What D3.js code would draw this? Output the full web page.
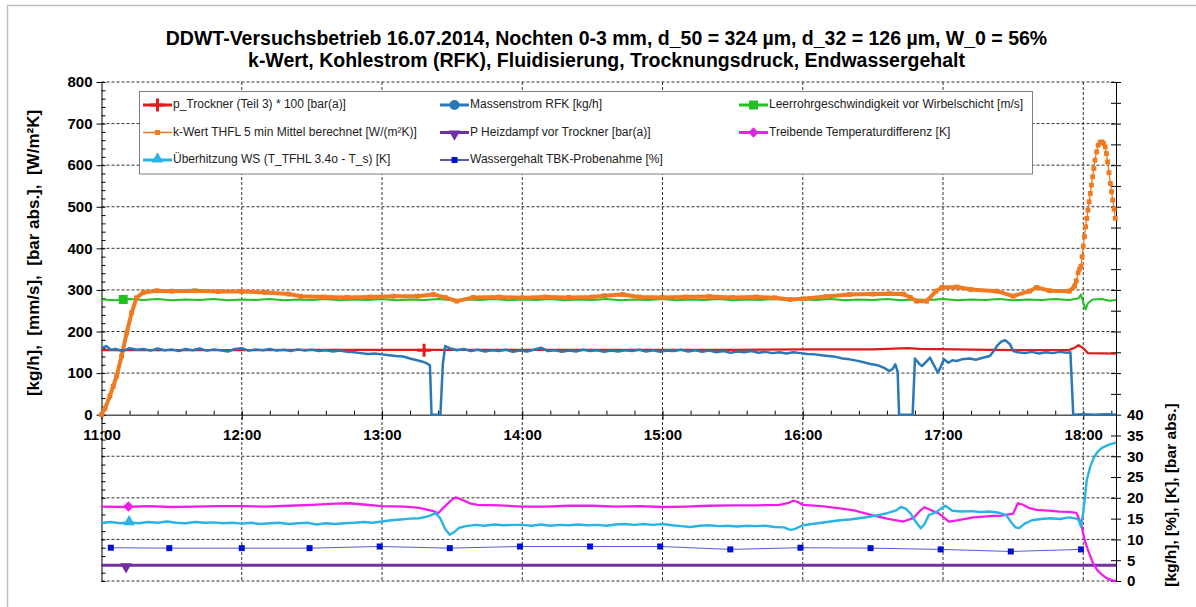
<!DOCTYPE html>
<html>
<head>
<meta charset="utf-8">
<script src="https://cdnjs.cloudflare.com/ajax/libs/d3/7.8.5/d3.min.js"></script>
<style>
  body { margin: 0; background: #fff; }
  svg { font-family: "Liberation Sans", Arial, sans-serif; }
</style>
</head>
<body>
<div id="chart"></div>
<script>
// time is given in minutes after 11:00
var hourTicks = [0, 60, 120, 180, 240, 300, 360, 420];
var hourLabels = ["11:00", "12:00", "13:00", "14:00", "15:00", "16:00", "17:00", "18:00"];
var leftTicks = [0, 100, 200, 300, 400, 500, 600, 700, 800];
var rightTicks = [0, 5, 10, 15, 20, 25, 30, 35, 40];

var titleLines = [
  "DDWT-Versuchsbetrieb 16.07.2014, Nochten 0-3 mm, d_50 = 324 µm, d_32 = 126 µm, W_0 = 56%",
  "k-Wert, Kohlestrom (RFK), Fluidisierung, Trocknungsdruck, Endwassergehalt"
];
var leftTitle = "[kg/h],  [mm/s],  [bar abs.],  [W/m²K]";
var rightTitle = "[kg/h], [%], [K], [bar abs.]";

var legendNames = [
  "p_Trockner (Teil 3) * 100 [bar(a)]",
  "Massenstrom RFK [kg/h]",
  "Leerrohrgeschwindigkeit vor Wirbelschicht [m/s]",
  "k-Wert THFL 5 min Mittel berechnet [W/(m²K)]",
  "P Heizdampf vor Trockner [bar(a)]",
  "Treibende Temperaturdifferenz [K]",
  "Überhitzung WS (T_TFHL 3.4o - T_s) [K]",
  "Wassergehalt TBK-Probenahme [%]"
];

// left axis series
var pTrockner = [[0,155],[30,155],[60,155],[90,156],[120,156],[150,156],[180,156],[210,156],[240,156],
  [270,156],[300,157],[330,157],[345,160],[350,158],[380,156],[400,155],[414,156],[416,160],[418,167],
  [420,160],[422,148],[434,147]];

var massStrom = [[0,160],[2,165],[4,156],[6,158],[9,153],[12,160],[15,156],[18,158],[21,154],[24,159],
  [27,155],[30,157],[33,153],[36,158],[39,155],[42,159],[45,154],[48,157],[51,155],[54,152],[57,158],
  [60,160],[63,154],[66,157],[69,155],[72,158],[75,154],[78,156],[81,153],[84,157],[87,154],[90,156],
  [93,153],[96,155],[99,152],[102,154],[105,151],[108,150],[111,148],[114,146],[117,147],[120,145],
  [123,143],[126,141],[129,140],[132,135],[135,131],[137,128],[139,124],[140.5,118],[141.2,0],[145,0],
  [146,120],[147,165],[149,160],[152,155],[155,158],[158,153],[161,156],[164,152],[167,155],[170,153],
  [173,156],[176,151],[179,154],[182,152],[185,156],[188,161],[191,153],[194,155],[197,151],[200,154],
  [203,152],[206,156],[209,153],[212,155],[215,151],[218,154],[221,152],[224,155],[227,153],[230,156],
  [233,152],[236,155],[239,151],[242,154],[245,153],[248,156],[251,152],[254,155],[257,151],[260,154],
  [263,150],[266,153],[269,149],[272,152],[275,150],[278,153],[281,149],[284,151],[287,148],[290,150],
  [293,147],[296,150],[299,148],[302,146],[305,145],[308,143],[311,141],[314,139],[317,135],[320,133],
  [323,130],[326,126],[329,122],[332,119],[335,112],[337,105],[338.5,110],[339.6,121],[340.6,103],
  [341.2,0],[347,0],[348,135],[350,121],[351,117],[353,128],[354.4,137],[356,120],[357.8,101],[359,115],
  [360.4,133],[362.3,125],[364,131],[365.8,129],[368,133],[371.5,135],[374,132],[377,137],[380,141],
  [382,155],[383,165],[385,176],[386.6,179],[388.7,169],[390,153],[392,150],[395,148],[398,151],
  [401,147],[404,150],[407,148],[410,151],[413,149],[414.5,150],[415.7,0],[420,1],[425,0],[430,1],[434,0]];

var leerrohr = [[0,277],[6,275],[12,278],[18,276],[24,278],[30,275],[36,277],[42,276],[48,278],[54,275],
  [60,277],[66,276],[72,278],[78,275],[84,277],[90,276],[96,278],[102,275],[108,277],[114,276],[120,278],
  [126,275],[132,277],[138,276],[144,278],[150,275],[156,277],[162,276],[168,278],[174,275],[180,277],
  [186,276],[192,278],[198,275],[204,277],[210,276],[216,278],[222,275],[228,277],[234,276],[240,278],
  [246,275],[252,277],[258,276],[264,278],[270,275],[276,277],[282,276],[288,278],[294,275],[300,277],
  [306,276],[312,278],[318,275],[324,277],[330,276],[336,278],[342,275],[348,277],[354,276],[360,278],
  [366,275],[372,277],[378,276],[384,278],[390,275],[396,277],[402,276],[408,278],[414,276],[418,280],
  [419,289],[420,270],[421,253],[422,268],[424,277],[428,278],[431,274],[434,276]];

var kWert = [[0,0],[1.5,15],[3.6,45],[5,68],[6.5,93],[8.6,141],[10.8,197],[12.9,245],[15,281],[17.9,294],
  [23.6,298],[30,297],[40,298],[50,296],[60,296],[70,294],[80,290],[85,285],[95,283],[105,282],[115,283],
  [125,285],[135,285],[142,289],[147,282],[152,273],[159,282],[170,283],[180,281],[190,283],[200,282],
  [210,283],[215,286],[223,289],[230,283],[240,282],[250,283],[260,284],[270,282],[280,283],[288,281],
  [294.5,277],[300,278.5],[310,284],[320,289],[330,290],[337,291],[343,290],[346,282],[348.7,273],
  [353,273],[357,297],[359.6,306],[366,307],[372,301],[383,297],[390,285],[397,297],[400,306],[405.6,298],
  [414,297],[416.3,309],[417,322],[417.8,341],[418.4,350],[419,357],[419.5,380],[420,405],[420.5,428],
  [421,452],[421.5,472],[422,492],[422.5,512],[423,532],[423.5,552],[424,572],[424.5,592],[425,612],
  [425.7,632],[426.4,648],[427.2,655],[428,656],[428.7,652],[429.4,644],[429.9,628],[430.4,608],
  [431,582],[431.6,556],[432.1,536],[432.6,516],[433.2,494],[433.7,472]];

// right axis series
var heizdampf = [[0,3.8],[434,3.8]];

var treibend = [[0,17.9],[10,17.8],[20,18.0],[30,17.8],[40,17.9],[50,18.0],[60,18.0],[70,17.9],[80,18.1],
  [90,18.3],[100,18.6],[106,18.7],[112,18.4],[120,18.0],[130,17.9],[136,17.6],[142,16.8],[144,16.3],
  [147,18.0],[150,19.6],[151.5,20.1],[154,19.6],[158,18.6],[161,18.3],[170,18.2],[180,17.9],[190,17.9],
  [200,18.1],[210,18.1],[220,17.9],[230,18.0],[240,17.8],[250,17.9],[260,18.1],[270,18.2],[280,18.2],
  [290,18.3],[294,18.8],[296,19.3],[298,19.0],[300,18.3],[308,18.0],[315,17.5],[322,17.0],[329,15.9],
  [336,15.0],[343,14.3],[347.5,15.2],[350,16.8],[352,17.7],[355,17.0],[358,16.3],[360,15.4],[362.5,14.3],
  [366,14.6],[373,15.3],[380,15.6],[385,15.7],[390,16.2],[392,18.7],[394,18.4],[397,17.5],[400,17.1],
  [405,16.9],[410,16.7],[414,16.6],[417,16.4],[419,14.0],[420.5,10.0],[422,7.5],[424,4.5],[426,2.6],
  [428,1.5],[430,0.7],[432,0.2],[434,0]];

var ueberhitzung = [[0,14.0],[4,14.2],[8,13.9],[12,14.1],[16,13.9],[20,14.2],[24,14.0],[28,14.3],[32,14.0],
  [36,13.9],[40,14.2],[44,14.0],[48,14.1],[52,13.9],[56,14.0],[60,13.8],[64,14.0],[68,13.7],[72,13.9],
  [76,14.0],[80,13.7],[84,13.9],[88,14.0],[92,13.6],[96,13.9],[100,13.7],[104,13.9],[108,14.0],[112,14.2],
  [116,14.0],[120,14.3],[124,14.6],[128,14.8],[132,15.0],[136,15.1],[140,15.6],[143,16.3],[145,15.0],
  [147,12.5],[149,11.1],[151,11.8],[153,12.8],[156,13.2],[160,13.5],[164,13.3],[168,13.6],[172,13.4],
  [176,13.5],[180,13.5],[184,13.3],[188,13.6],[192,13.3],[196,13.5],[200,13.4],[204,13.6],[208,13.4],
  [212,13.5],[216,13.3],[220,13.6],[224,13.7],[228,13.5],[232,13.7],[236,13.5],[240,13.7],[244,13.4],
  [248,13.2],[252,13.0],[256,13.3],[260,13.4],[264,13.2],[268,13.3],[272,13.1],[276,13.3],[280,13.2],
  [284,13.3],[288,13.0],[292,12.9],[294,12.4],[295,12.3],[297,12.6],[300,13.4],[304,13.7],[308,14.0],
  [312,14.3],[316,14.6],[320,14.8],[324,15.1],[328,15.4],[332,15.8],[336,16.3],[340,17.0],[342,17.8],
  [344,17.4],[346,16.3],[348,14.5],[350.5,12.7],[352,13.6],[354,15.9],[357,16.5],[359,17.4],[361,18.1],
  [364,16.9],[368,16.7],[372,16.8],[376,16.6],[380,16.7],[384,16.4],[387,15.9],[389,14.2],[391,12.9],
  [392.5,12.7],[395,13.8],[398,14.6],[402,14.9],[406,15.1],[410,14.9],[414,15.3],[417,15.0],[418,14.7],
  [419,13.1],[420,16.4],[421.5,24.3],[423,27.5],[424.5,29.6],[426,31.0],[428,32.0],[431,32.8],[434,33.3]];

var wassergehalt = [[4,8.0],[29,7.9],[60,7.9],[89,7.9],[119,8.3],[149,7.9],[179,8.3],[209,8.3],[239,8.3],
  [269,7.6],[299,8.0],[329,7.9],[359,7.6],[389,7.1],[419,7.6]];

function drawChart() {
  var w = 1196;
  var h = 607;

  var svg = d3.select("#chart")
    .append("svg")
    .attr("width", w)
    .attr("height", h);

  //outer frame
  svg.append("rect")
    .attr("x", 7.5).attr("y", 5.5)
    .attr("width", 1220).attr("height", 640)
    .attr("fill", "none")
    .attr("stroke", "#c0c0c0")
    .attr("stroke-width", 1.5);

  var xScale = d3.scaleLinear().domain([0, 434]).range([101.5, 1116]);
  var yLeft = d3.scaleLinear().domain([-400, 800]).range([581, 82]);
  var yRight = d3.scaleLinear().domain([0, 120]).range([581, 82]);

  //title
  svg.selectAll(".title")
    .data(titleLines)
    .enter()
    .append("text")
    .attr("class", "title")
    .attr("x", 606.5)
    .attr("y", (d, i) => 45 + i * 21.7)
    .attr("text-anchor", "middle")
    .style("font-size", "19.5px")
    .style("font-weight", "bold")
    .text((d) => d);

  //gridlines
  var gridH = [-400, -300, -200, -100, 100, 200, 300, 400, 500, 600, 700, 800];
  svg.append("g").selectAll("line")
    .data(gridH)
    .enter()
    .append("line")
    .attr("x1", xScale(0)).attr("x2", xScale(434))
    .attr("y1", (d) => yLeft(d)).attr("y2", (d) => yLeft(d))
    .attr("stroke", "#333")
    .attr("stroke-dasharray", "3,2");

  svg.append("g").selectAll("line")
    .data(hourTicks.slice(1))
    .enter()
    .append("line")
    .attr("x1", (d) => xScale(d)).attr("x2", (d) => xScale(d))
    .attr("y1", 82).attr("y2", 581)
    .attr("stroke", "#333")
    .attr("stroke-dasharray", "3,2");

  //left axis
  var leftAxis = svg.append("g")
    .attr("transform", "translate(" + xScale(0) + ",0)")
    .call(d3.axisLeft(yLeft).tickValues(leftTicks).tickSize(5).tickSizeOuter(0).tickPadding(4));
  svg.append("g")
    .attr("transform", "translate(" + xScale(0) + ",0)")
    .call(d3.axisRight(yLeft).tickValues(d3.range(-400, 801, 20)).tickSize(4).tickFormat(""))
    .call((g) => g.select(".domain").remove());

  //right axis
  var rightAxis = svg.append("g")
    .attr("transform", "translate(" + xScale(434) + ",0)")
    .call(d3.axisRight(yRight).tickValues(rightTicks).tickSize(5).tickSizeOuter(0).tickPadding(6));
  svg.append("g")
    .attr("transform", "translate(" + xScale(434) + ",0)")
    .call(d3.axisLeft(yRight).tickValues(d3.range(0, 121, 5)).tickSize(5).tickFormat(""))
    .call((g) => g.select(".domain").remove());
  svg.append("g")
    .attr("transform", "translate(" + xScale(434) + ",0)")
    .call(d3.axisRight(yRight).tickValues(d3.range(45, 121, 5)).tickSize(5).tickFormat(""))
    .call((g) => g.select(".domain").remove());

  //time axis at zero
  var xAxis = svg.append("g")
    .attr("transform", "translate(0," + yLeft(0) + ")")
    .call(d3.axisBottom(xScale).tickValues(hourTicks).tickFormat((d, i) => hourLabels[i])
      .tickSize(5).tickSizeOuter(0).tickPadding(10));
  svg.append("g")
    .attr("transform", "translate(0," + yLeft(0) + ")")
    .call(d3.axisTop(xScale).tickValues(d3.range(0, 434, 12)).tickSize(4).tickFormat(""))
    .call((g) => g.select(".domain").remove());

  [leftAxis, rightAxis, xAxis].forEach((g) => {
    g.selectAll("text")
      .style("font-size", "15px")
      .style("font-weight", "bold")
      .style("font-family", "'Liberation Sans', Arial, sans-serif")
      .attr("fill", "#000");
  });
  svg.selectAll(".domain, .tick line").attr("stroke", "#000");

  //axis titles
  svg.append("text")
    .attr("transform", "translate(35,253) rotate(-90)")
    .attr("text-anchor", "middle")
    .attr("dominant-baseline", "middle")
    .style("white-space", "pre")
    .style("font-size", "17px")
    .style("font-weight", "bold")
    .text(leftTitle);

  svg.append("text")
    .attr("transform", "translate(1172,495) rotate(-90)")
    .attr("text-anchor", "middle")
    .attr("dominant-baseline", "middle")
    .style("font-size", "15.5px")
    .style("font-weight", "bold")
    .text(rightTitle);

  var lineL = d3.line().x((d) => xScale(d[0])).y((d) => yLeft(d[1]));
  var lineR = d3.line().x((d) => xScale(d[0])).y((d) => yRight(d[1]));

  function drawLine(data, line, color, width) {
    svg.append("path")
      .datum(data)
      .attr("d", line)
      .attr("fill", "none")
      .attr("stroke", color)
      .attr("stroke-width", width)
      .attr("stroke-linejoin", "round");
  }

  //lower group (right axis)
  drawLine(heizdampf, lineR, "#7030a0", 3);
  drawLine(wassergehalt, lineR, "#5a5ad0", 1);
  svg.selectAll(".wg")
    .data(wassergehalt)
    .enter()
    .append("rect")
    .attr("class", "wg")
    .attr("x", (d) => xScale(d[0]) - 3)
    .attr("y", (d) => yRight(d[1]) - 3)
    .attr("width", 6).attr("height", 6)
    .attr("fill", "#0010d0");
  drawLine(treibend, lineR, "#f01ee6", 2.3);
  drawLine(ueberhitzung, lineR, "#2ab4e6", 2.4);

  //upper group (left axis)
  drawLine(leerrohr, lineL, "#22c022", 2);
  drawLine(kWert.filter((d) => d[0] <= 417), lineL, "#f07a22", 4);
  drawLine(kWert.filter((d) => d[0] >= 416.3), lineL, "#f07a22", 1.3);
  svg.selectAll(".kw")
    .data(kWert)
    .enter()
    .append("rect")
    .attr("class", "kw")
    .attr("x", (d) => xScale(d[0]) - 2.4)
    .attr("y", (d) => yLeft(d[1]) - 2.4)
    .attr("width", 4.8).attr("height", 4.8)
    .attr("fill", "#f07a22");
  drawLine(pTrockner, lineL, "#e31a1c", 2.2);
  drawLine(massStrom, lineL, "#2b78b9", 2.5);

  //single markers on the lines
  function marker(g, type, x, y) {
    if (type === "plus") {
      g.append("path")
        .attr("d", "M" + (x - 7) + "," + y + "H" + (x + 7) + "M" + x + "," + (y - 6.5) + "V" + (y + 6.5))
        .attr("stroke", "#e31a1c").attr("stroke-width", 3);
    } else if (type === "circle") {
      g.append("circle").attr("cx", x).attr("cy", y).attr("r", 5).attr("fill", "#2b78b9");
    } else if (type === "square") {
      g.append("rect").attr("x", x - 4.5).attr("y", y - 4.5).attr("width", 9).attr("height", 9).attr("fill", "#22c022");
    } else if (type === "small") {
      g.append("rect").attr("x", x - 2.5).attr("y", y - 2.5).attr("width", 5).attr("height", 5).attr("fill", "#f07a22");
    } else if (type === "down") {
      g.append("path").attr("d", d3.symbol().type(d3.symbolTriangle).size(60)())
        .attr("transform", "translate(" + x + "," + (y + 1.5) + ") rotate(180)").attr("fill", "#7030a0");
    } else if (type === "diamond") {
      g.append("path").attr("d", d3.symbol().type(d3.symbolSquare).size(55)())
        .attr("transform", "translate(" + x + "," + y + ") rotate(45)").attr("fill", "#f01ee6");
    } else if (type === "up") {
      g.append("path").attr("d", d3.symbol().type(d3.symbolTriangle).size(60)())
        .attr("transform", "translate(" + x + "," + (y - 1) + ")").attr("fill", "#2ab4e6");
    } else if (type === "navy") {
      g.append("rect").attr("x", x - 3).attr("y", y - 3).attr("width", 6).attr("height", 6).attr("fill", "#0010d0");
    }
  }

  var mk = svg.append("g");
  marker(mk, "plus", xScale(138), yLeft(155));
  marker(mk, "square", xScale(9.3), yLeft(277));
  marker(mk, "down", xScale(10.5), yRight(3.8));
  marker(mk, "diamond", xScale(11.5), yRight(17.9));
  marker(mk, "up", xScale(11.8), yRight(14.0));

  //legend
  var legendTypes = ["plus", "circle", "square", "small", "down", "diamond", "up", "navy"];
  var legendColors = ["#e31a1c", "#2b78b9", "#22c022", "#f07a22", "#7030a0", "#f01ee6", "#2ab4e6", "#000080"];
  var legendWidths = [3, 3, 3, 1.5, 3, 3, 3, 1.3];
  var colX = [143, 440, 739];
  var rowY = [105, 132.5, 160];

  svg.append("rect")
    .attr("x", 139.5).attr("y", 91.5)
    .attr("width", 893).attr("height", 82.5)
    .attr("fill", "#fff")
    .attr("stroke", "#808080");

  var lg = svg.append("g");
  legendNames.forEach((name, i) => {
    var lx = colX[i % 3];
    var ly = rowY[Math.floor(i / 3)];
    lg.append("line")
      .attr("x1", lx).attr("x2", lx + 29)
      .attr("y1", ly).attr("y2", ly)
      .attr("stroke", legendColors[i])
      .attr("stroke-width", legendWidths[i]);
    marker(lg, legendTypes[i], lx + 14.5, ly);
    lg.append("text")
      .attr("x", lx + 30)
      .attr("y", ly)
      .attr("dominant-baseline", "middle")
      .style("font-size", "12px")
      .attr("fill", "#222")
      .text(name);
  });
}

window.onload = function () {
  drawChart();
};
</script>
</body>
</html>
